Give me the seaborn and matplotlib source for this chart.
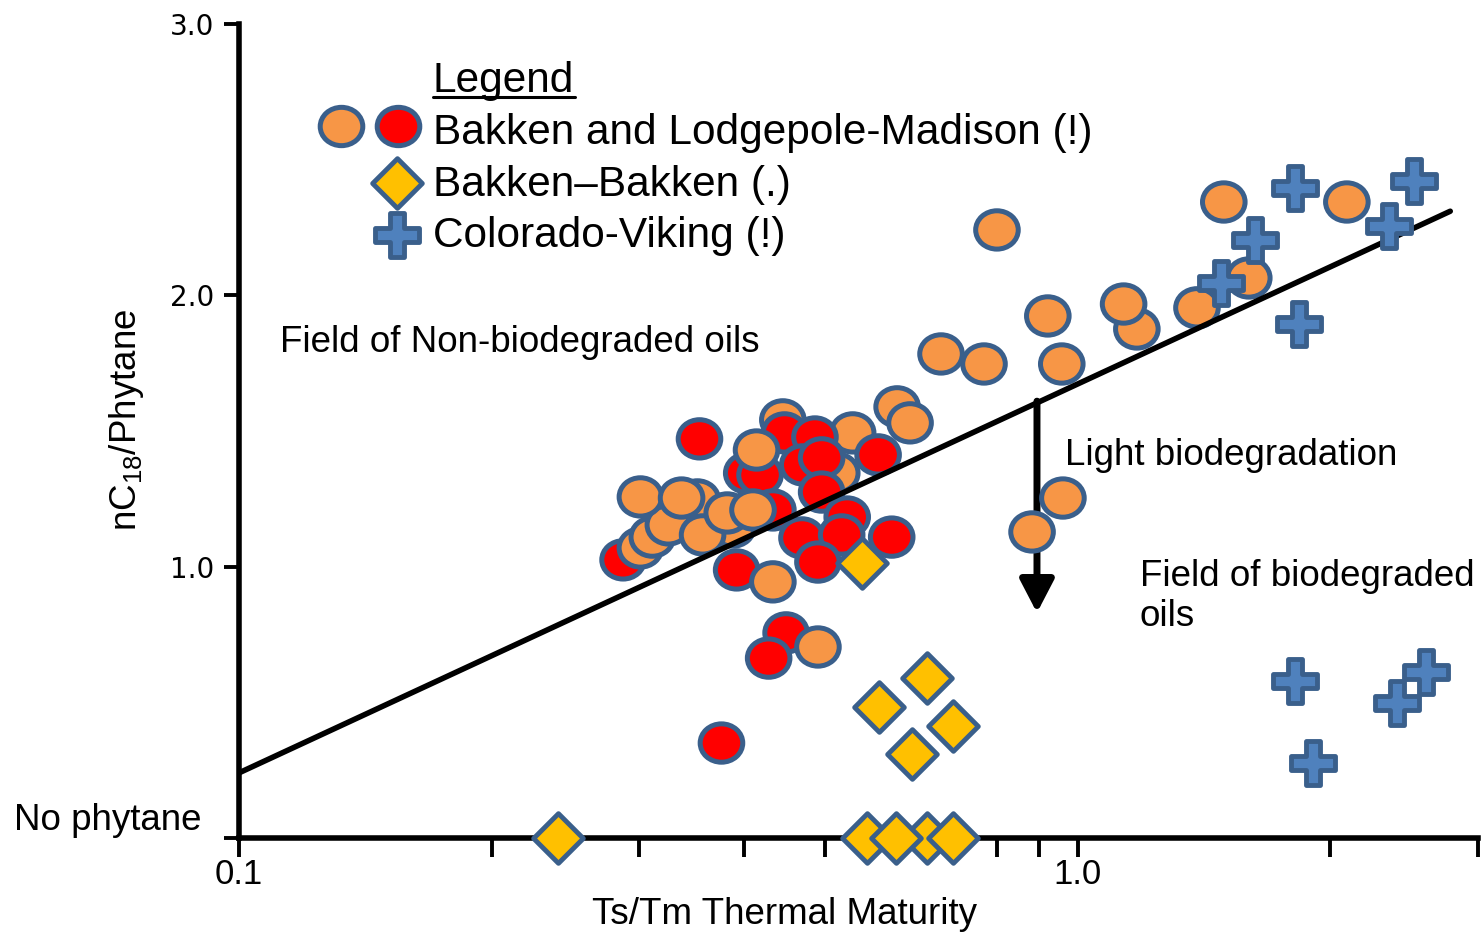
import numpy as np
import pandas as pd
import seaborn as sns
import matplotlib
matplotlib.use('Agg')
import matplotlib.pyplot as plt
from matplotlib.path import Path

# Bakken and Lodgepole-Madison oils (two fill colours), listed in drawing order
circle_x = [0.352, 0.287, 0.301, 0.311, 0.325, 0.301, 0.337, 0.403, 0.418, 0.388,
            0.357, 0.382, 0.433, 0.410, 0.445, 0.447, 0.414, 0.539, 0.516, 0.486,
            0.470, 0.495, 0.578, 0.495, 0.354, 0.531, 0.469, 0.523, 0.600, 0.490,
            0.392, 0.433, 0.449, 0.490, 0.428, 0.376, 0.609, 0.631, 0.687, 0.773,
            0.801, 0.921, 0.957, 1.176, 1.134, 1.387, 1.599, 1.493, 2.093, 0.960,
            0.882]
circle_y = [1.246, 1.025, 1.069, 1.109, 1.154, 1.257, 1.253, 1.345, 1.338, 1.146,
            1.117, 1.198, 1.209, 1.209, 1.541, 1.493, 1.430, 1.493, 1.345, 1.478,
            1.375, 1.401, 1.412, 1.275, 1.471, 1.183, 1.106, 1.117, 1.109, 1.017,
            0.988, 0.944, 0.756, 0.704, 0.663, 0.350, 1.589, 1.530, 1.784, 1.747,
            2.241, 1.924, 1.747, 1.876, 1.968, 1.954, 2.064, 2.344, 2.344, 1.253,
            1.128]
circle_kind = ['orange', 'red', 'orange', 'orange', 'orange', 'orange', 'orange', 'red', 'red', 'orange',
               'orange', 'orange', 'red', 'orange', 'orange', 'red', 'orange', 'orange', 'orange', 'red',
               'red', 'red', 'red', 'red', 'red', 'red', 'red', 'red', 'red', 'red',
               'red', 'orange', 'red', 'orange', 'red', 'red', 'orange', 'orange', 'orange', 'orange',
               'orange', 'orange', 'orange', 'orange', 'orange', 'orange', 'orange', 'orange', 'orange', 'orange',
               'orange']

# Bakken-Bakken oils (0 = no phytane)
diamond_x = [0.240, 0.560, 0.661, 0.607, 0.710, 0.553, 0.661, 0.579, 0.710, 0.634]
diamond_y = [0.0, 0.0, 0.0, 0.0, 0.0, 1.014, 0.590, 0.483, 0.413, 0.310]

# Colorado-Viking oils
plus_x = [1.814, 2.516, 2.349, 1.626, 1.481, 1.834, 1.814, 1.906, 2.598, 2.401]
plus_y = [2.396, 2.422, 2.256, 2.204, 2.046, 1.895, 0.579, 0.276, 0.612, 0.498]

# dividing line between the fields
trend_x = [0.1, 2.78]
trend_y = [0.24, 2.31]

# light biodegradation arrow
arrow_x = 0.894
arrow_y = [1.61, 0.83]

x_ticks = [0.1, 0.2, 0.3, 0.4, 0.5, 0.6, 0.7, 0.8, 0.9, 1.0, 2.0, 3.0]
x_ticklabels = ['0.1', '', '', '', '', '', '', '', '', '1.0', '', '']
y_ticks = [0, 1, 2, 3]
y_ticklabels = ['', '1.0', '2.0', '3.0']

EDGE = '#3A5F8B'
colors = {'orange': '#F79646', 'red': '#FF0000'}
DIAMOND = '#FFC000'
PLUS = '#4F81BD'

sns.set_style('white')
plt.rcParams['font.family'] = ['Liberation Sans', 'DejaVu Sans']
plt.rcParams['mathtext.fontset'] = 'custom'
plt.rcParams['mathtext.rm'] = 'Liberation Sans'
plt.rcParams['mathtext.default'] = 'rm'
for key in ['text.color', 'axes.labelcolor', 'xtick.color', 'ytick.color']:
    plt.rcParams[key] = 'black'

# marker shapes
uc = Path.unit_circle()
ellipse = Path(uc.vertices * np.array([1.0, 0.9]), uc.codes)
diamond = Path([(0, 1), (1, 0), (0, -1), (-1, 0), (0, 1)], closed=True)
a = 0.33
cross = Path([(-a, 1), (a, 1), (a, a), (1, a), (1, -a), (a, -a), (a, -1), (-a, -1),
              (-a, -a), (-1, -a), (-1, a), (-a, a), (-a, 1)], closed=True)
S_CIRCLE, S_DIAMOND, S_CROSS = 940, 1280, 980

W, H = 1482, 936
fig = plt.figure(figsize=(W / 100, H / 100), dpi=100)
ax = fig.add_axes([239 / W, 98 / H, 1239 / W, 814 / H])
ax.set_xscale('log')
ax.set_xlim(0.1, 3.0)
ax.set_ylim(0, 3)

df_c = pd.DataFrame({'x': circle_x, 'y': circle_y, 'kind': circle_kind})
df_d = pd.DataFrame({'x': diamond_x, 'y': diamond_y})
df_p = pd.DataFrame({'x': plus_x, 'y': plus_y})

sns.scatterplot(data=df_c, x='x', y='y', hue='kind', palette=colors, marker=ellipse,
                s=S_CIRCLE, edgecolor=EDGE, linewidth=3.6, legend=False, ax=ax,
                zorder=3, clip_on=False)
sns.lineplot(x=trend_x, y=trend_y, color='black', linewidth=4, ax=ax, zorder=4)
sns.scatterplot(data=df_d, x='x', y='y', color=DIAMOND, marker=diamond, s=S_DIAMOND,
                edgecolor=EDGE, linewidth=3.5, legend=False, ax=ax, zorder=5, clip_on=False)
sns.scatterplot(data=df_p, x='x', y='y', color=PLUS, marker=cross, s=S_CROSS,
                edgecolor=EDGE, linewidth=3.5, legend=False, ax=ax, zorder=5, clip_on=False)

ax.annotate('', xy=(arrow_x, arrow_y[1]), xytext=(arrow_x, arrow_y[0]),
            arrowprops=dict(arrowstyle='-|>,head_length=0.5,head_width=0.26',
                            mutation_scale=40, lw=5, color='black',
                            shrinkA=0, shrinkB=0), zorder=2)

# axes styling
for side in ['top', 'right']:
    ax.spines[side].set_visible(False)
for side in ['left', 'bottom']:
    ax.spines[side].set_linewidth(4)
    ax.spines[side].set_color('black')
ax.set_xticks(x_ticks)
ax.set_xticklabels(x_ticklabels)
ax.xaxis.set_minor_locator(matplotlib.ticker.NullLocator())
ax.set_yticks(y_ticks)
ax.set_yticklabels(y_ticklabels)
ax.tick_params(axis='x', direction='out', length=13.5, width=2.8, pad=1,
               labelsize=25, bottom=True, color='black', labelcolor='black')
ax.tick_params(axis='y', direction='out', length=11, width=2.8, pad=7,
               labelsize=20, left=True, color='black', labelcolor='black')
for lab in ax.get_yticklabels():
    lab.set_fontfamily('DejaVu Sans')
ax.set_xlabel('')
ax.set_ylabel('')

fig.text(785 / W, 1 - 915 / H, 'Ts/Tm Thermal Maturity', fontsize=26.5,
         ha='center', va='center', color='black')
fig.text(127 / W, 1 - 420 / H, r'nC$_{18}$/Phytane', fontsize=26.5,
         rotation=90, ha='center', va='center', color='black')
fig.text(14 / W, 1 - 820 / H, 'No phytane', fontsize=26.5, ha='left', va='center',
         color='black')

# field annotations
ax.text(0.1119, 1.825, 'Field of Non-biodegraded oils', fontsize=26.5, va='center')
ax.text(0.965, 1.41, 'Light biodegradation', fontsize=26.5, va='center')
ax.text(1.186, 0.89, 'Field of biodegraded\noils', fontsize=26.5, va='center',
        ha='left', linespacing=1.2)

# hand-made legend
leg_fs = 30.5
ax.text(0.1703, 2.79, 'Legend', fontsize=leg_fs, va='center')
ax.plot([0.1703, 0.2515], [2.731, 2.731], color='black', lw=2.2, clip_on=False)
ax.scatter([0.1323], [2.624], marker=ellipse, s=S_CIRCLE, color=colors['orange'],
           edgecolor=EDGE, linewidth=3.6, zorder=3, clip_on=False)
ax.scatter([0.1547], [2.624], marker=ellipse, s=S_CIRCLE, color=colors['red'],
           edgecolor=EDGE, linewidth=3.6, zorder=3, clip_on=False)
ax.scatter([0.1544], [2.414], marker=diamond, s=S_DIAMOND, color=DIAMOND,
           edgecolor=EDGE, linewidth=3.5, zorder=3, clip_on=False)
ax.scatter([0.1544], [2.223], marker=cross, s=S_CROSS, color=PLUS,
           edgecolor=EDGE, linewidth=3.5, zorder=3, clip_on=False)
ax.text(0.1703, 2.60, 'Bakken and Lodgepole-Madison (!)', fontsize=leg_fs, va='center')
ax.text(0.1703, 2.408, 'Bakken\u2013Bakken (.)', fontsize=leg_fs, va='center')
ax.text(0.1703, 2.217, 'Colorado-Viking (!)', fontsize=leg_fs, va='center')

fig.savefig('out.png', dpi=100)
